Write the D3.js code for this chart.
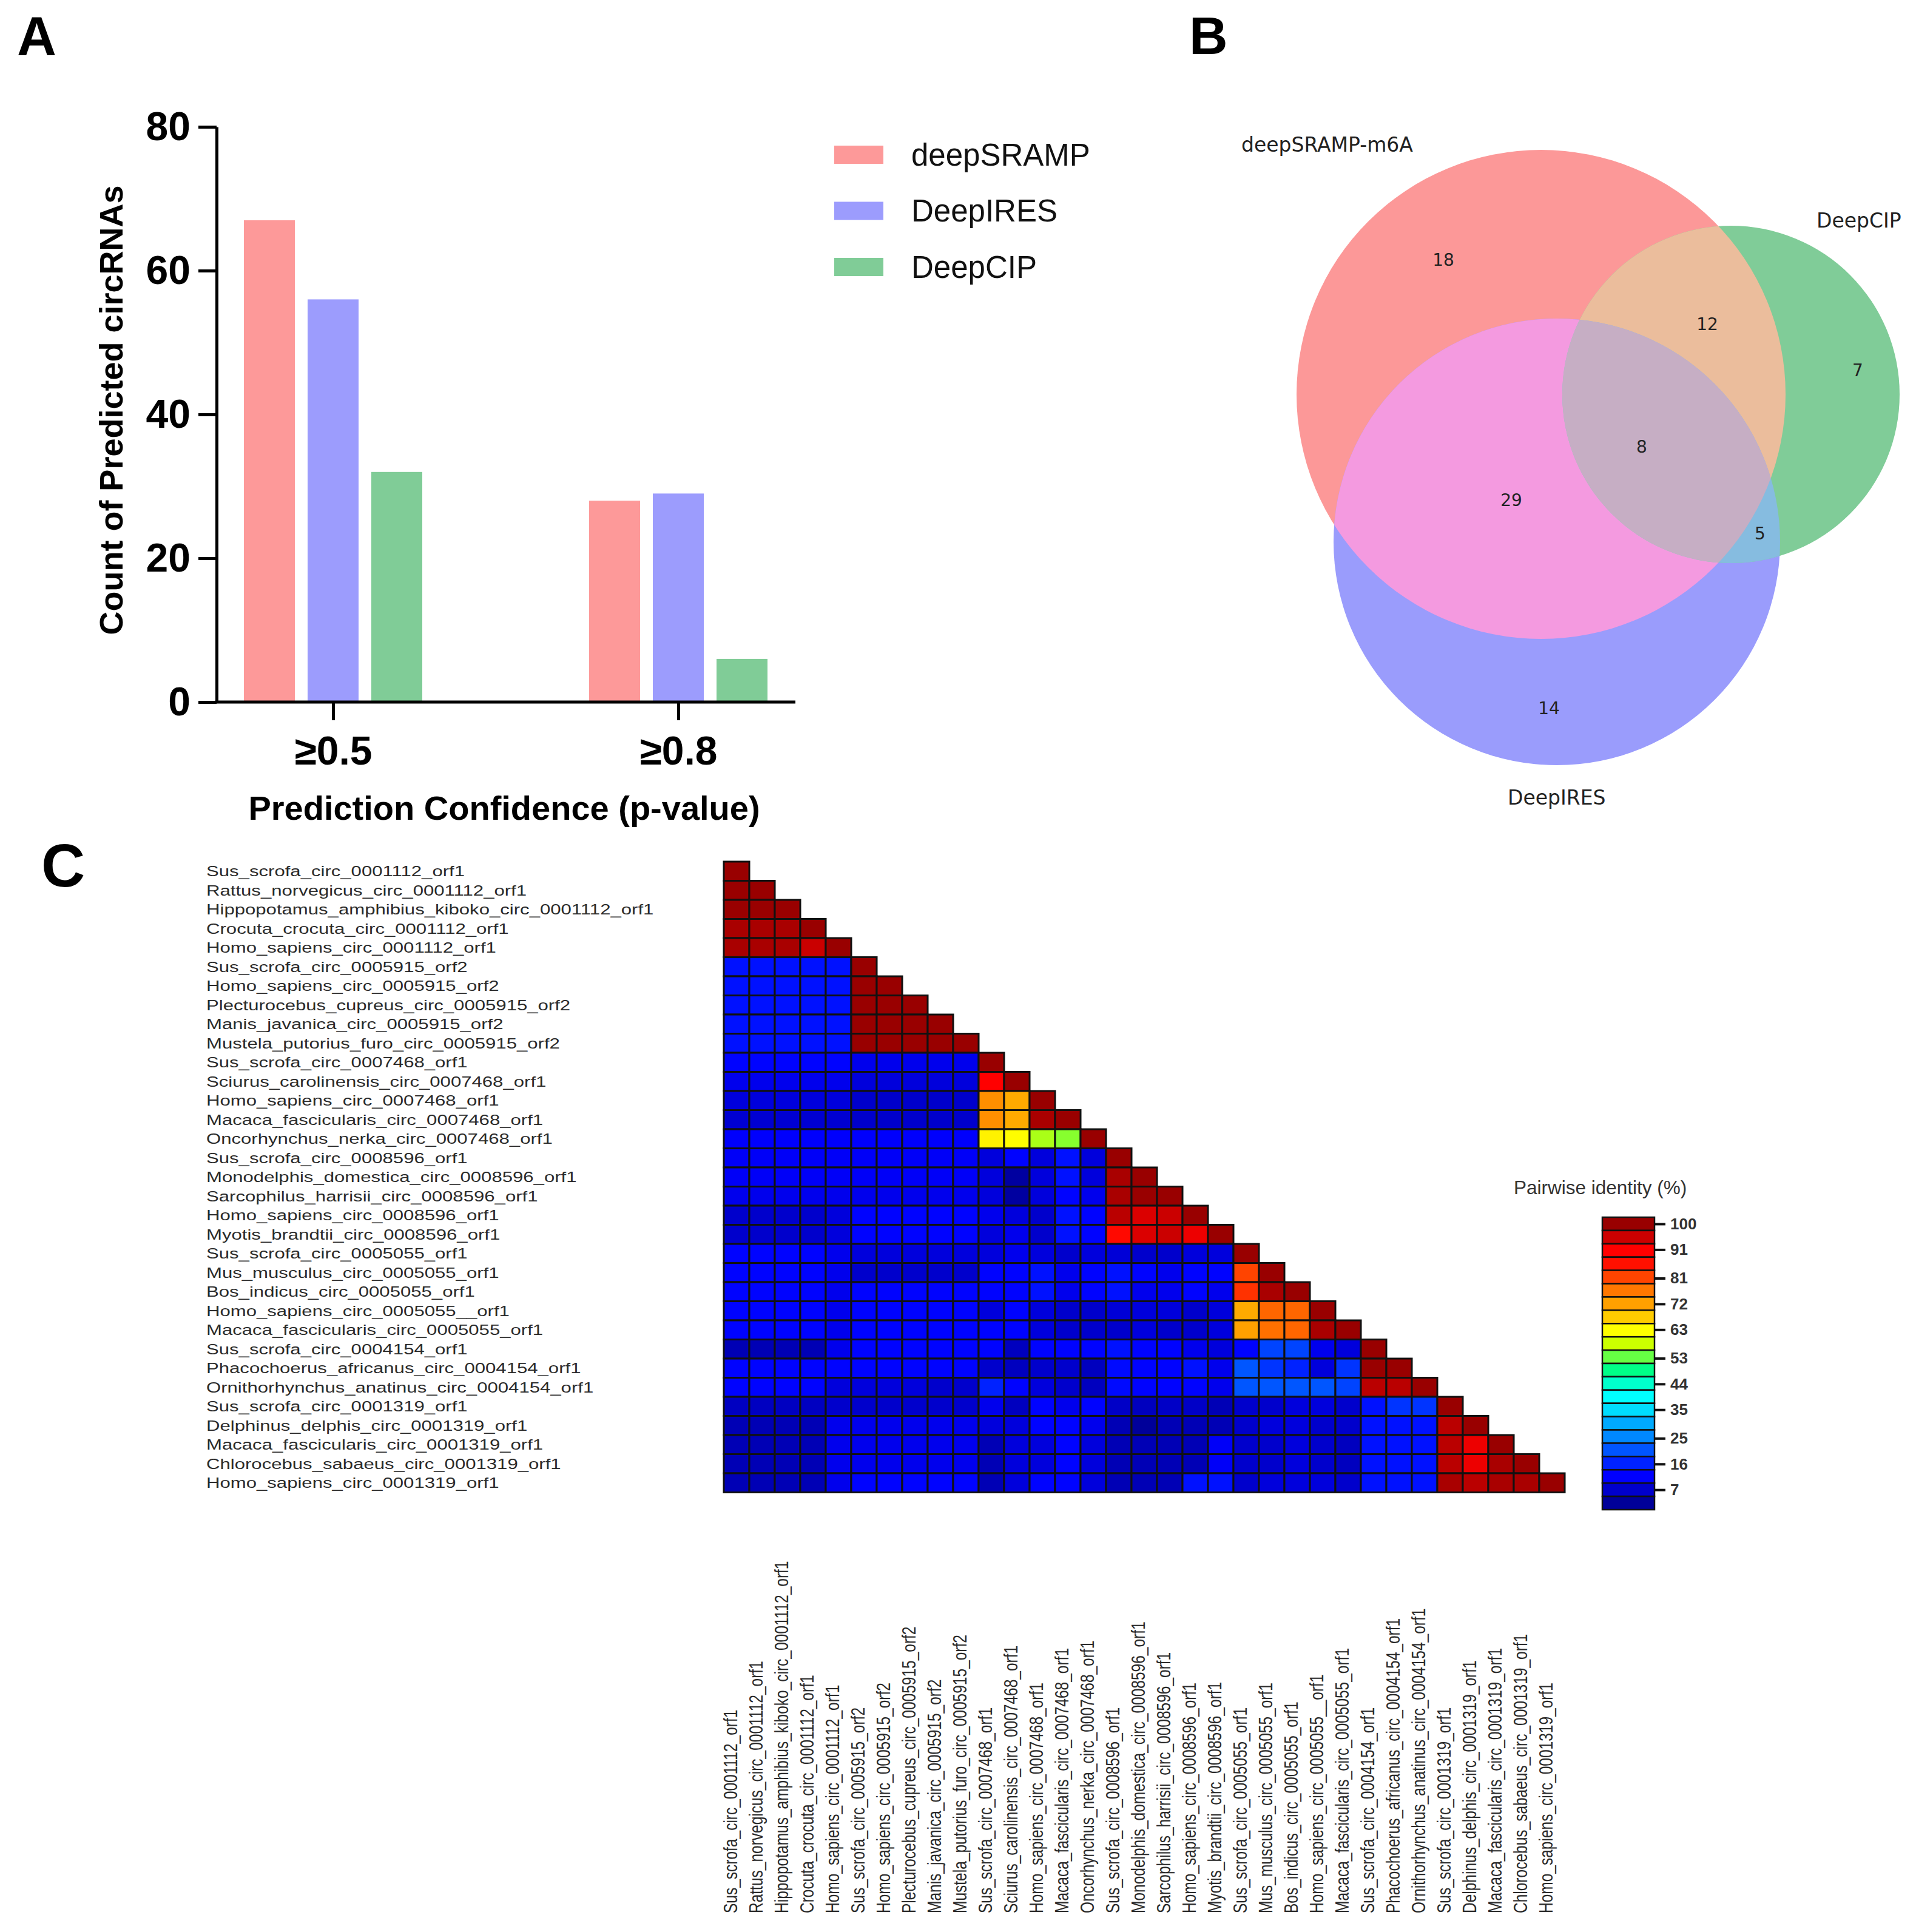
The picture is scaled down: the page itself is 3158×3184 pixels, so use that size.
<!DOCTYPE html>
<html><head><meta charset="utf-8">
<script src="https://cdn.jsdelivr.net/npm/d3@7"></script>
<style>body{margin:0;background:#fff}</style>
</head><body>
<svg id="fig" width="3158" height="3184" xmlns="http://www.w3.org/2000/svg"></svg>
<script>
// ---------------- DATA ----------------
// Panel A
const confidenceGroups = ['≥0.5', '≥0.8'];
const toolNames = ['deepSRAMP', 'DeepIRES', 'DeepCIP'];
const deepSRAMPCounts = [67, 28];
const deepIRESCounts = [56, 29];
const deepCIPCounts = [32, 6];
const yTicksA = [0, 20, 40, 60, 80];

// Panel B (Venn)
const vennSetNames = ['deepSRAMP-m6A', 'DeepIRES', 'DeepCIP'];
const vennRegionKeys = ['R', 'B', 'G', 'RB', 'RG', 'BG', 'RBG'];
const vennRegionCounts = [18, 14, 7, 29, 12, 5, 8];

// Panel C (pairwise identity heatmap)
const sequenceNames = [
  'Sus_scrofa_circ_0001112_orf1','Rattus_norvegicus_circ_0001112_orf1','Hippopotamus_amphibius_kiboko_circ_0001112_orf1',
  'Crocuta_crocuta_circ_0001112_orf1','Homo_sapiens_circ_0001112_orf1','Sus_scrofa_circ_0005915_orf2',
  'Homo_sapiens_circ_0005915_orf2','Plecturocebus_cupreus_circ_0005915_orf2','Manis_javanica_circ_0005915_orf2',
  'Mustela_putorius_furo_circ_0005915_orf2','Sus_scrofa_circ_0007468_orf1','Sciurus_carolinensis_circ_0007468_orf1',
  'Homo_sapiens_circ_0007468_orf1','Macaca_fascicularis_circ_0007468_orf1','Oncorhynchus_nerka_circ_0007468_orf1',
  'Sus_scrofa_circ_0008596_orf1','Monodelphis_domestica_circ_0008596_orf1','Sarcophilus_harrisii_circ_0008596_orf1',
  'Homo_sapiens_circ_0008596_orf1','Myotis_brandtii_circ_0008596_orf1','Sus_scrofa_circ_0005055_orf1',
  'Mus_musculus_circ_0005055_orf1','Bos_indicus_circ_0005055_orf1','Homo_sapiens_circ_0005055__orf1',
  'Macaca_fascicularis_circ_0005055_orf1','Sus_scrofa_circ_0004154_orf1','Phacochoerus_africanus_circ_0004154_orf1',
  'Ornithorhynchus_anatinus_circ_0004154_orf1','Sus_scrofa_circ_0001319_orf1','Delphinus_delphis_circ_0001319_orf1',
  'Macaca_fascicularis_circ_0001319_orf1','Chlorocebus_sabaeus_circ_0001319_orf1','Homo_sapiens_circ_0001319_orf1'
];
// lower-triangular pairwise identity (%), row r has r+1 values
const identity = [
  [100],
  [100,100],
  [100,100,100],
  [98.5,98.5,98.5,100],
  [98.5,98.5,98.5,95.5,100],
  [14,14,14,14,14,100],
  [14,14,14,14,14,100,100],
  [14,14,14,14,14,100,100,100],
  [14,14,14,14,14,100,100,100,100],
  [14,14,14,14,14,100,100,100,100,100],
  [12,12,12,12,12,10,10,10,10,10,100],
  [10,10,10,10,10,8.5,8.5,8.5,8.5,8.5,90.7,100],
  [8.5,8.5,8.5,8.5,8.5,7,7,7,7,7,74,71,100],
  [7.5,7.5,7.5,7.5,7.5,7,7,7,7,7,74,71,98.5,100],
  [11.5,11.5,11.5,11.5,11.5,11.5,11.5,11.5,11.5,11.5,64,63,56.6,55,100],
  [11,11,11,11,11,11,11,11,11,11,8.5,12,8.5,14,8.5,100],
  [11,11,11,11,11,11,11,11,11,11,8.5,3,8.5,14,8.5,98.5,100],
  [10,10,10,10,10,10,10,10,10,10,8.5,3,8.5,12,10,98.5,100,100],
  [7,7,7,7,8.5,12,12,12,12,12,10,8.5,7,14,12,97,94,95.4,100],
  [7,7,7,7,8.5,12,12,12,12,12,8.5,10,7,14,12,88,94,95.4,92.3,100],
  [12,12,12,12,10,8.5,8.5,8.5,8.5,8.5,8.5,10,8.5,7,8.5,8,7,7,8.5,8.5,100],
  [12,12,12,12,10,7,7,7,7,7,12,12,14,10,12,14,12,10,12,12,81.4,100],
  [12,12,12,12,10,12,12,12,12,12,12,12,14,10,12,14,10,10,12,10,83,98.5,100],
  [12,12,12,12,10,12,12,12,12,12,8.5,12,8.5,7,7,8,8.5,8.5,7,8.5,71,78.3,78.3,100],
  [12,12,12,12,10,12,12,12,12,12,12,12,8.5,7,7,7,8.5,7,7,8.5,72,77.4,78.3,98.5,100],
  [4.9,4.9,4.9,4.9,10,12,12,12,12,12,12,5.8,12,12,12,14,12,12,10,8.5,12,19.4,19.4,10,8.5,100],
  [12,12,12,12,12,12,12,12,12,12,7,5.8,7,7,5.8,13,12,12,14,10,21,17.9,16.3,8.5,17.9,100,100],
  [12,12,12,12,8.5,8.5,8.5,8.5,7,7,16.3,12,8.5,7,5.8,13,12,12,12,10,21,21,21,21,19.4,97,97,100],
  [6,6,6,6,7,7,7,7,7,7,10,5.8,12,10,12,6.5,5.8,6.5,6.5,5,7,7,8.5,8.5,7,14,17.9,17.9,100],
  [4.9,4.9,4.9,4.9,10,10,10,10,10,10,8.5,8.5,12,12,10,4.9,2.4,4.9,4.9,4.9,7,8.5,8.5,7,7,14,14,14,97,100],
  [4.9,4.9,4.9,4.9,10,10,10,10,10,10,4.9,8.5,8.5,12,8.5,4.9,4.9,4.9,4.9,11,7,7,8.5,7,5.8,14,14,14,97,92.3,100],
  [4.9,4.9,4.9,4.9,10,10,10,10,10,10,4.9,8.5,8.5,12,8.5,4.9,4.9,4.9,4.9,11,7,7,8.5,7,5.8,14,14,14,97,92.3,98.5,100],
  [4.9,4.9,4.9,4.9,10,12,12,12,12,12,4.9,8.5,12,12,8.5,4.9,4.9,4.9,14,14,7,8.5,8.5,8.5,7,14,14,14,98.5,97,98.5,98.5,100]
];
// colour bar: band colours from top (100%) to bottom
const identityBandColors = ['#990000','#cc0000','#ff0000','#ff1000','#ff4400','#ff7700','#ffa000','#ffcc00','#ffff00',
  '#ccff00','#66ff44','#00ff88','#00ffcc','#00ffff','#00ddff','#00aaff','#0088ff','#0055ff','#0022ff','#0000ff','#0000cc','#000099'];
const identityTickLabels = [100, 91, 81, 72, 63, 53, 44, 35, 25, 16, 7];

// ---------------- DRAW ----------------
const svg = d3.select('#fig');
svg.append('rect').attr('width', 3158).attr('height', 3184).attr('fill', '#fff');
const SANS = 'Arial, "Liberation Sans", Helvetica, sans-serif';
const DEJAVU = '"DejaVu Sans", Verdana, sans-serif';

// panel letters
svg.append('text').attr('x', 28).attr('y', 91).text('A')
  .attr('font-family', SANS).attr('font-weight', 'bold').attr('font-size', 90);
svg.append('text').attr('x', 1960).attr('y', 89).text('B')
  .attr('font-family', SANS).attr('font-weight', 'bold').attr('font-size', 88);
svg.append('text').attr('x', 68).attr('y', 1461).text('C')
  .attr('font-family', SANS).attr('font-weight', 'bold').attr('font-size', 100);

// ---------- Panel A ----------
const A = { left: 357, right: 1311, top: 209, bottom: 1157 };
const yA = d3.scaleLinear().domain([0, 80]).range([A.bottom, A.top]);
const xA = d3.scalePoint().domain(confidenceGroups).range([549, 1118]);
const xInner = d3.scaleBand().domain(toolNames).range([-147, 147]).paddingInner(0.2).paddingOuter(0);
const seriesA = [deepSRAMPCounts, deepIRESCounts, deepCIPCounts];
const colorsA = ['#fd9999', '#9c9cfd', '#80cc97'];
const gA = svg.append('g');
toolNames.forEach((t, si) => {
  gA.selectAll(null)
    .data(confidenceGroups.map((g, gi) => ({ g, v: seriesA[si][gi] })))
    .enter().append('rect')
    .attr('x', d => xA(d.g) + xInner(t))
    .attr('width', xInner.bandwidth())
    .attr('y', d => yA(d.v))
    .attr('height', d => yA(0) - yA(d.v))
    .attr('fill', colorsA[si]);
});
const gy = gA.append('g').attr('transform', `translate(${A.left},0)`)
  .call(d3.axisLeft(yA).tickValues(yTicksA).tickSize(30).tickSizeOuter(0).tickPadding(13));
gy.attr('font-family', SANS).attr('font-size', 66).attr('font-weight', 'bold');
gy.selectAll('line').attr('stroke-width', 5).attr('stroke', '#000');
gy.select('.domain').attr('stroke-width', 5).attr('stroke', '#000');
gy.selectAll('text').attr('fill', '#000');
const gx = gA.append('g').attr('transform', `translate(0,${A.bottom})`)
  .call(d3.axisBottom(xA).tickSize(30).tickSizeOuter(0).tickPadding(26));
gx.select('.domain').remove();
gx.attr('font-family', SANS).attr('font-size', 66).attr('font-weight', 'bold');
gx.selectAll('line').attr('stroke-width', 5).attr('stroke', '#000');
gx.selectAll('text').attr('fill', '#000');
gA.append('line').attr('x1', A.left - 2.5).attr('x2', A.right).attr('y1', A.bottom).attr('y2', A.bottom)
  .attr('stroke', '#000').attr('stroke-width', 5);
gA.append('text').attr('x', 831).attr('y', 1351).attr('text-anchor', 'middle')
  .attr('font-family', SANS).attr('font-weight', 'bold').attr('font-size', 56)
  .text('Prediction Confidence (p-value)');
gA.append('text').attr('transform', 'translate(202,676) rotate(-90)').attr('text-anchor', 'middle')
  .attr('font-family', SANS).attr('font-weight', 'bold').attr('font-size', 54)
  .text('Count of Predicted circRNAs');
// legend
const legY = d3.scalePoint().domain(toolNames).range([255, 440]);
const leg = gA.append('g');
toolNames.forEach((t, i) => {
  leg.append('rect').attr('x', 1375).attr('y', legY(t) - 15).attr('width', 81).attr('height', 30).attr('fill', colorsA[i]);
  leg.append('text').attr('x', 1502).attr('y', legY(t)).attr('dominant-baseline', 'central')
    .attr('font-family', SANS).attr('font-size', 51).attr('fill', '#111').text(t);
});

// ---------- Panel B (Venn) ----------
const circles = {
  R: { cx: 2540, cy: 650, r: 403 },
  B: { cx: 2566, cy: 893, r: 368 },
  G: { cx: 2853, cy: 650, r: 278 }
};
const vennFill = { R: '#fc9898', B: '#9a9cfc', G: '#80cc98', RB: '#f49ae0', RG: '#ebbd9c', BG: '#86bce0', RBG: '#c6aec4' };
const defs = svg.append('defs');
['R', 'B', 'G'].forEach(k => {
  defs.append('clipPath').attr('id', 'clip' + k).append('circle')
    .attr('cx', circles[k].cx).attr('cy', circles[k].cy).attr('r', circles[k].r);
});
const gB = svg.append('g');
const drawCircle = (parent, k, fill) => parent.append('circle')
  .attr('cx', circles[k].cx).attr('cy', circles[k].cy).attr('r', circles[k].r).attr('fill', fill);
drawCircle(gB, 'R', vennFill.R);
drawCircle(gB, 'B', vennFill.B);
drawCircle(gB, 'G', vennFill.G);
drawCircle(gB.append('g').attr('clip-path', 'url(#clipR)'), 'B', vennFill.RB);
drawCircle(gB.append('g').attr('clip-path', 'url(#clipR)'), 'G', vennFill.RG);
drawCircle(gB.append('g').attr('clip-path', 'url(#clipB)'), 'G', vennFill.BG);
drawCircle(gB.append('g').attr('clip-path', 'url(#clipR)').append('g').attr('clip-path', 'url(#clipB)'), 'G', vennFill.RBG);
const vennLabelPos = { R: [2379, 428], B: [2553, 1167], G: [3062, 610], RB: [2491, 824], RG: [2814, 534], BG: [2901, 879], RBG: [2706, 736] };
vennRegionKeys.forEach((k, i) => {
  gB.append('text').attr('x', vennLabelPos[k][0]).attr('y', vennLabelPos[k][1])
    .attr('text-anchor', 'middle').attr('dominant-baseline', 'central')
    .attr('font-family', DEJAVU).attr('font-size', 28).attr('fill', '#222').text(vennRegionCounts[i]);
});
const setLabelPos = [[2046, 250], [2485, 1326], [2994, 375]];
vennSetNames.forEach((n, i) => {
  gB.append('text').attr('x', setLabelPos[i][0]).attr('y', setLabelPos[i][1])
    .attr('font-family', DEJAVU).attr('font-size', 33).attr('fill', '#222').text(n);
});

// ---------- Panel C (heatmap) ----------
const n = sequenceNames.length;
const H = { left: 1193, top: 1420, cw: 42, ch: 31.5 };
const xC = d3.scaleBand().domain(d3.range(n)).range([H.left, H.left + n * H.cw]);
const yC = d3.scaleBand().domain(d3.range(n)).range([H.top, H.top + n * H.ch]);
const bandCenters = identityBandColors.map((c, i) => 100 - i * 4.65);
const colorC = d3.scaleLinear().domain(bandCenters).range(identityBandColors).clamp(true);
const cells = [];
identity.forEach((row, r) => row.forEach((v, c) => cells.push({ r, c, v })));
const gC = svg.append('g');
gC.selectAll('rect.cell').data(cells).enter().append('rect').attr('class', 'cell')
  .attr('x', d => xC(d.c)).attr('y', d => yC(d.r))
  .attr('width', xC.bandwidth()).attr('height', yC.bandwidth())
  .attr('fill', d => colorC(d.v)).attr('stroke', '#111').attr('stroke-width', 3);
// row labels
gC.selectAll('text.rowlab').data(sequenceNames).enter().append('text').attr('class', 'rowlab')
  .attr('transform', (d, i) => `translate(340,${yC(i) + yC.bandwidth() / 2}) scale(1.27,1)`)
  .attr('dominant-baseline', 'central')
  .attr('font-family', SANS).attr('font-size', 24.5).attr('fill', '#2a2a2a').text(d => d);
// column labels
gC.selectAll('text.collab').data(sequenceNames).enter().append('text').attr('class', 'collab')
  .attr('transform', (d, i) => `translate(${xC(i) + xC.bandwidth() / 2 + 1},3153) scale(1.26,1) rotate(-90)`)
  .attr('font-family', SANS).attr('font-size', 24.5).attr('fill', '#2a2a2a').text(d => d);

// colour bar
const CB = { left: 2641, width: 86, top: 2006, bottom: 2488 };
const yCB = d3.scaleLinear().domain([100 + 2.325, 100 - 21.5 * 4.65]).range([CB.top, CB.bottom]);
const gCB = svg.append('g');
gCB.selectAll('rect').data(identityBandColors).enter().append('rect')
  .attr('x', CB.left).attr('width', CB.width)
  .attr('y', (d, i) => yCB(bandCenters[i] + 2.325))
  .attr('height', (d, i) => yCB(bandCenters[i] - 2.325) - yCB(bandCenters[i] + 2.325))
  .attr('fill', d => d).attr('stroke', '#111').attr('stroke-width', 2.5);
const gCBax = gCB.append('g').attr('transform', `translate(${CB.left + CB.width},0)`)
  .call(d3.axisRight(yCB).tickValues(identityTickLabels).tickSize(18).tickSizeOuter(0).tickPadding(8));
gCBax.select('.domain').remove();
gCBax.attr('font-family', SANS).attr('font-size', 26);
gCBax.selectAll('line').attr('stroke', '#111').attr('stroke-width', 4);
gCBax.selectAll('text').attr('fill', '#333').attr('font-weight', 'bold');
gCB.append('text').attr('x', 2495).attr('y', 1968).attr('font-family', SANS).attr('font-size', 31.5)
  .attr('fill', '#333').text('Pairwise identity (%)');
</script>
</body></html>
